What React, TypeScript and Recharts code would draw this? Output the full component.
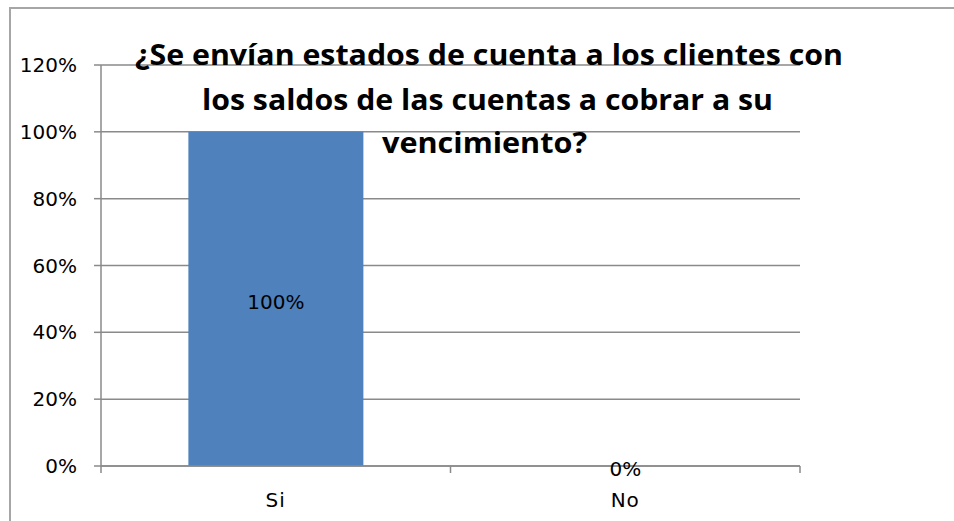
import React from 'react';
import { BarChart, Bar, XAxis, YAxis, CartesianGrid, LabelList } from 'recharts';

const categories = ['Si', 'No'];
const shares = [1, 0];
const yTicks = [0, 0.2, 0.4, 0.6, 0.8, 1, 1.2];
const titleLines = [
  '¿Se envían estados de cuenta a los clientes con',
  'los saldos de las cuentas a cobrar a su',
  'vencimiento?',
];

const data = categories.map((name, i) => ({ name, value: shares[i] }));

const pct = (v: number) => `${Math.round(v * 100)}%`;
const AXIS = '#8a8a8a';
const FONT = "'DejaVu Sans', 'Liberation Sans', sans-serif";
const TITLE_FONT = "'Open Sans', 'Liberation Sans', sans-serif";

// ticks sit on category boundaries, like the spreadsheet original
const XTick = (props: any) => {
  const { x, y, payload, index } = props;
  const half = payload && payload.offset ? payload.offset : 175;
  const top = y - 27;
  return (
    <g>
      <line x1={x - half} x2={x - half} y1={top} y2={top + 7} stroke={AXIS} strokeWidth={1.5} />
      {index === categories.length - 1 && (
        <line x1={x + half} x2={x + half} y1={top} y2={top + 7} stroke={AXIS} strokeWidth={1.5} />
      )}
      <text x={x} y={y} dy="0.71em" textAnchor="middle" fill="#000" fontSize={20} fontFamily={FONT} letterSpacing={1}>
        {payload.value}
      </text>
    </g>
  );
};

// value label centred on the bar (an empty bar sits on the axis)
const ValueLabel = (props: any) => {
  const { x, y, width, height, value } = props;
  const cx = Number(x) + Number(width) / 2;
  const cy = Number(y) + Number(height) / 2 + 3;
  return (
    <text x={cx} y={cy} textAnchor="middle" dominantBaseline="central" fill="#000" fontSize={20} fontFamily={FONT}>
      {pct(Number(value))}
    </text>
  );
};

const App: React.FC = () => {
  return (
    <div style={{ position: 'absolute', left: 0, top: 0, width: 954, height: 521, background: '#fff', overflow: 'hidden' }}>
      <div
        style={{
          position: 'absolute',
          left: 9,
          top: 7,
          width: 1000,
          height: 600,
          border: '2px solid #a6a6a6',
        }}
      />
      <div style={{ position: 'absolute', left: 0, top: 0 }}>
        <BarChart
          width={954}
          height={521}
          data={data}
          margin={{ top: 65, right: 154, left: 0, bottom: 0 }}
          barCategoryGap="25%"
        >
          <CartesianGrid vertical={false} stroke={AXIS} strokeWidth={1.5} />
          <XAxis
            dataKey="name"
            height={55}
            axisLine={{ stroke: AXIS, strokeWidth: 1.5 }}
            tickLine={false}
            tickSize={0}
            tickMargin={27}
            tick={<XTick />}
          />
          <YAxis
            width={101}
            domain={[0, 1.2]}
            ticks={yTicks}
            interval={0}
            tickFormatter={pct}
            axisLine={{ stroke: AXIS, strokeWidth: 1.5 }}
            tickLine={{ stroke: AXIS, strokeWidth: 1.5 }}
            tickSize={7}
            tickMargin={17}
            tick={{ fill: '#000', fontSize: 20, fontFamily: FONT }}
          />
          <Bar
            dataKey="value"
            fill="#4f81bd"
            isAnimationActive={false}
            minPointSize={(v: any) => (Number(v) === 0 ? 0.01 : 0)}
          >
            <LabelList dataKey="value" content={<ValueLabel />} />
          </Bar>
        </BarChart>
      </div>
      <svg width={954} height={521} style={{ position: 'absolute', left: 0, top: 0, pointerEvents: 'none' }}>
        <text x={135} y={65} textLength={708} lengthAdjust="spacingAndGlyphs" fontSize={28} fontWeight="bold" fontFamily={TITLE_FONT} fill="#000">
          {titleLines[0]}
        </text>
        <text x={202} y={110} textLength={571} lengthAdjust="spacingAndGlyphs" fontSize={28} fontWeight="bold" fontFamily={TITLE_FONT} fill="#000">
          {titleLines[1]}
        </text>
        <text x={382} y={153} textLength={205} lengthAdjust="spacingAndGlyphs" fontSize={28} fontWeight="bold" fontFamily={TITLE_FONT} fill="#000">
          {titleLines[2]}
        </text>
      </svg>
    </div>
  );
};

export default App;
